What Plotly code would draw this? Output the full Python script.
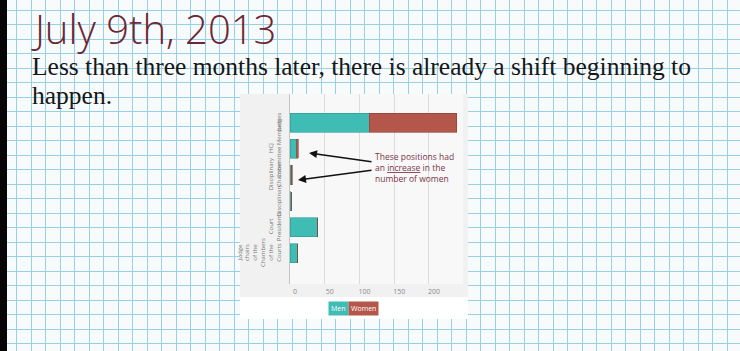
import plotly.graph_objects as go

# ---- data ----
row_ids = ["judges", "hcj", "disc_ch", "disc", "court_pres", "chairs"]
row_labels = ["Judges", "HCJ<br>Committee Members", "Disciplinary<br>Chamber",
              "Disciplinary", "Court<br>Presidents",
              "Judge<br>chairs<br>of the<br>Chambers<br>of the<br>Courts"]
men = [114, 10, 2, 2, 40, 11]
women = [126, 2, 1, 0, 0, 0]
x_ticks = [0, 50, 100, 150, 200]

TEAL = "#3fbcb3"
RED = "#b5564b"
W, H = 740, 351


def px(p):
    return p / W


def py(p):
    return 1 - p / H


fig = go.Figure()

# graph paper subplot (xy)
fig.add_trace(go.Scatter(x=[0], y=[0], mode="markers", marker=dict(opacity=0),
                         hoverinfo="skip", showlegend=False, xaxis="x", yaxis="y"))
# panel subplot (x2y2)
fig.add_trace(go.Scatter(x=[0.5], y=[0.5], mode="markers", marker=dict(opacity=0),
                         hoverinfo="skip", showlegend=False, xaxis="x2", yaxis="y2"))
# chart (x3y3)
fig.add_trace(go.Bar(y=row_ids, x=men, orientation="h", name="Men",
                     marker=dict(color=TEAL, line=dict(color="#2f9a92", width=0.6)),
                     width=0.73, xaxis="x3", yaxis="y3", showlegend=False))
fig.add_trace(go.Bar(y=row_ids, x=women, orientation="h", name="Women",
                     marker=dict(color=RED, line=dict(color="#8e3c33", width=0.6)),
                     width=0.73, xaxis="x3", yaxis="y3", showlegend=False))

hidden = dict(showgrid=False, showticklabels=False, ticks="", zeroline=False,
              showline=False, fixedrange=True)

GRID = "#9ad0e6"

fig.update_layout(
    width=W, height=H, autosize=False,
    margin=dict(l=0, r=0, t=0, b=0),
    paper_bgcolor="#f8fbfc", plot_bgcolor="rgba(0,0,0,0)",
    barmode="stack", bargap=0.27,
    xaxis=dict(domain=[0, 1], range=[0, W], tick0=2.2, dtick=14.5, showgrid=True,
               gridcolor=GRID, gridwidth=1, showticklabels=False, ticks="",
               zeroline=False, showline=False, fixedrange=True),
    yaxis=dict(domain=[0, 1], range=[H, 0], tick0=10.3, dtick=14.5, showgrid=True,
               gridcolor=GRID, gridwidth=1, showticklabels=False, ticks="",
               zeroline=False, showline=False, fixedrange=True, anchor="x"),
    xaxis2=dict(domain=[px(240), px(468)], range=[0, 1], anchor="y2", **hidden),
    yaxis2=dict(domain=[py(319), py(94)], range=[0, 1], anchor="x2", **hidden),
    xaxis3=dict(domain=[px(290), px(463)], range=[0, 249], anchor="y3",
                tickmode="array", tickvals=x_ticks, showgrid=True, gridcolor="#dcdcdc",
                tickfont=dict(family="Open Sans", size=7, color="#8a8a8a"),
                ticks="", zeroline=False, showline=False, fixedrange=True,
                ticklabelshift=5, ticklabelstandoff=2),
    yaxis3=dict(domain=[py(284), py(94)], anchor="x3", type="category",
                categoryorder="array", categoryarray=row_ids,
                range=[6.17, -1.1], tickmode="array", tickvals=row_ids,
                ticktext=row_labels, tickangle=-90,
                tickfont=dict(family="Open Sans", size=6, color="#777777"),
                showgrid=False, ticks="", zeroline=False, showline=True,
                linecolor="#c4c4c4", linewidth=1, fixedrange=True, ticklabelstandoff=6),
)

shapes = [
    # left black strip
    dict(type="rect", xref="paper", yref="paper", x0=0, x1=px(7), y0=0, y1=1,
         fillcolor="#050505", line=dict(width=0), layer="above"),
    # white chart panel
    dict(type="rect", xref="x2", yref="y2", x0=0, x1=1, y0=0, y1=1,
         fillcolor="#ffffff", line=dict(width=0), layer="below"),
    # gray chart background
    dict(type="rect", xref="x2", yref="y2", x0=0, x1=1, y0=(319 - 297) / 225, y1=1,
         fillcolor="#f1f1f1", line=dict(width=0), layer="below"),
    # plot area
    dict(type="rect", xref="x3", yref="y3", x0=-50, x1=400, y0=-5, y1=10,
         fillcolor="#f8f8f8", line=dict(width=0), layer="below"),
]
fig.update_layout(shapes=shapes)

ann = [
    dict(text="July 9th, 2013", x=px(29), y=py(28), xanchor="left", yanchor="middle",
         font=dict(family="Open Sans", size=40, color="#6c2634", weight=300)),
    dict(text="Less than three months later, there is already a shift beginning to",
         x=px(30), y=py(66), xanchor="left", yanchor="middle",
         font=dict(family="Liberation Serif", size=25.5, color="#161616")),
    dict(text="happen.", x=px(30), y=py(95), xanchor="left", yanchor="middle",
         font=dict(family="Liberation Serif", size=25.5, color="#161616")),
    dict(text="These positions had<br>an <span style='text-decoration:underline'>increase</span> in the<br>number of women",
         x=px(373), y=py(167), xanchor="left", yanchor="middle", align="left",
         font=dict(family="Open Sans", size=8.5, color="#7a3548")),
    dict(text="", x=px(309), y=py(153), ax=64, ay=9, showarrow=True,
         arrowhead=2, arrowsize=1, arrowwidth=1.6, arrowcolor="#111111",
         xref="paper", yref="paper"),
    dict(text="", x=px(298), y=py(180), ax=75, ay=-10, showarrow=True,
         arrowhead=2, arrowsize=1, arrowwidth=1.6, arrowcolor="#111111",
         xref="paper", yref="paper"),
    dict(text="Men", x=px(338), y=py(308), xanchor="center", yanchor="middle",
         bgcolor=TEAL, borderpad=2,
         font=dict(family="Open Sans", size=7, color="#ffffff")),
    dict(text="Women", x=px(363), y=py(308), xanchor="center", yanchor="middle",
         bgcolor=RED, borderpad=2,
         font=dict(family="Open Sans", size=7, color="#ffffff")),
]
for a in ann:
    a.setdefault("xref", "paper")
    a.setdefault("yref", "paper")
    a.setdefault("showarrow", False)
fig.update_layout(annotations=ann)

fig.write_html("out.html")
